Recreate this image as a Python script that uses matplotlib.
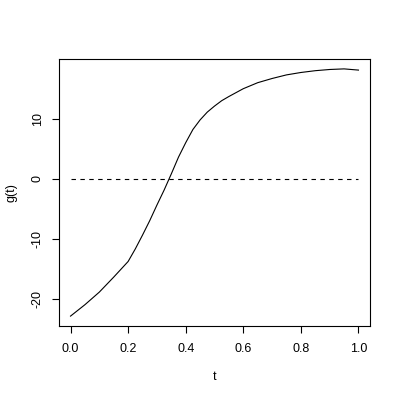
import matplotlib

matplotlib.use("Agg")
import matplotlib.pyplot as plt

# curve g(t)
t_vals = [0.00, 0.05, 0.10, 0.15, 0.20, 0.225, 0.25, 0.275, 0.30, 0.325,
          0.35, 0.375, 0.40, 0.425, 0.45, 0.475, 0.50, 0.525, 0.55, 0.60,
          0.65, 0.70, 0.75, 0.80, 0.85, 0.90, 0.95, 1.00]
g_vals = [-22.9, -21.0, -18.9, -16.4, -13.8, -11.7, -9.4, -7.0, -4.4, -1.9,
          0.8, 3.6, 6.0, 8.2, 9.8, 11.1, 12.1, 13.0, 13.7, 15.0,
          16.0, 16.7, 17.3, 17.7, 18.0, 18.2, 18.3, 18.1]
zero_t = [0.0, 1.0]
zero_g = [0.0, 0.0]
x_ticks = [0.0, 0.2, 0.4, 0.6, 0.8, 1.0]
y_ticks = [-20, -10, 0, 10]

plt.rcParams.update({
    "font.family": ["Liberation Sans", "DejaVu Sans"],
    "font.size": 9,
})

fig = plt.figure(figsize=(4, 4), dpi=100)
ax = fig.add_axes([59 / 400, 1 - 326 / 400, 311 / 400, 267 / 400])

ax.plot(t_vals, g_vals, color="black", linewidth=0.8)
ax.plot(zero_t, zero_g, color="black", linewidth=0.8, linestyle=(0, (4, 4)))

ymin, ymax = min(g_vals), max(g_vals)
span = ymax - ymin
ax.set_xlim(-0.04, 1.04)
ax.set_ylim(ymin - 0.04 * span, ymax + 0.04 * span)

ax.set_xticks(x_ticks, [f"{v:.1f}" for v in x_ticks])
ax.set_yticks(y_ticks, [str(v) for v in y_ticks])
for lab in ax.get_yticklabels():
    lab.set_rotation(90)
    lab.set_va("center")
ax.tick_params(length=5, width=0.8, pad=7)
ax.tick_params(axis="y", pad=6)
for sp in ax.spines.values():
    sp.set_linewidth(0.8)

ax.set_xlabel("t", labelpad=12)
ax.set_ylabel("g(t)", labelpad=10)

fig.savefig("out.png", dpi=100)
